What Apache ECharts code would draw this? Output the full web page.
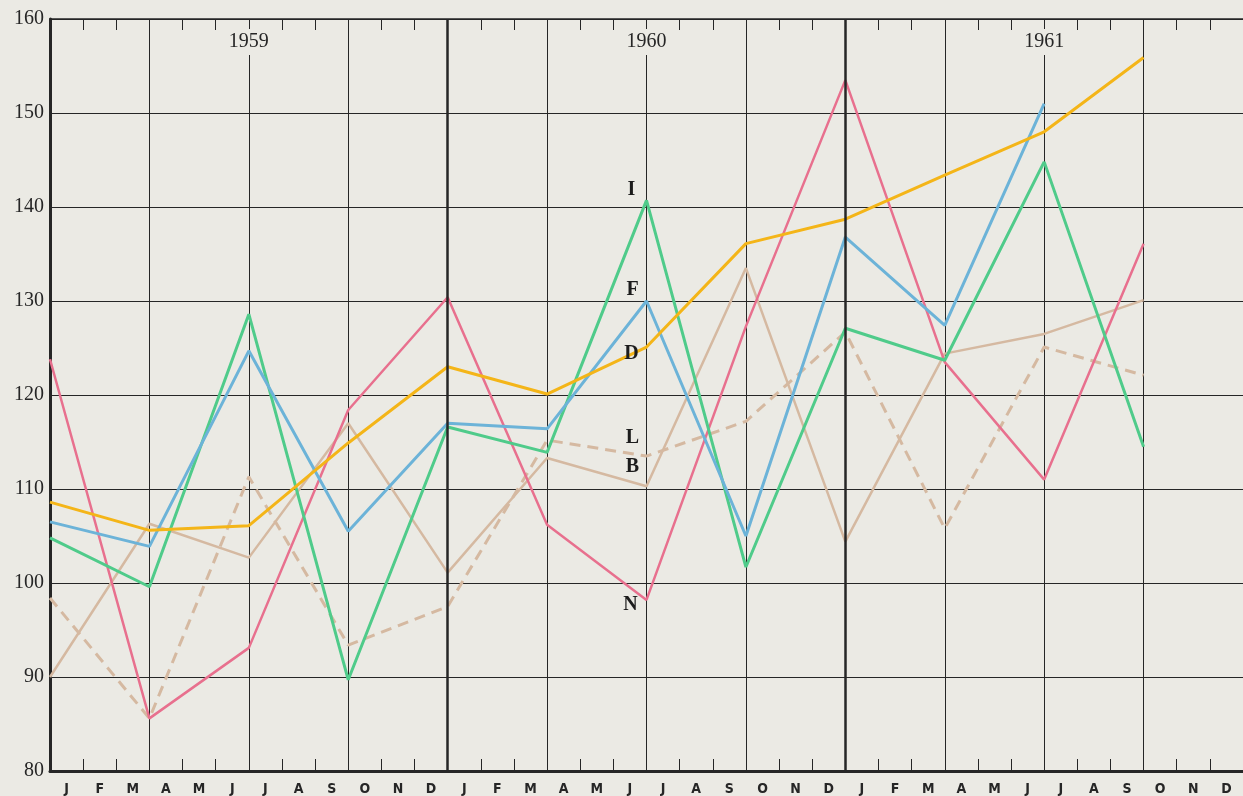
<!DOCTYPE html>
<html>
<head>
<meta charset="utf-8">
<title>1959-1961</title>
<style>
html,body{margin:0;padding:0;background:#ebeae4;}
#main{width:1243px;height:796px;}
</style>
</head>
<body>
<div id="main"></div>
<script src="https://cdn.jsdelivr.net/npm/echarts@6/dist/echarts.min.js"></script>
<script type="text/javascript">
// month letters, three years
var monthNames = ['J','F','M','A','M','J','J','A','S','O','N','D'];
var months = monthNames.concat(monthNames, monthNames);
var years = ['1959', '1960', '1961'];
// one reading every quarter (month index from Jan 1959)
var quarterIdx = [0, 3, 6, 9, 12, 15, 18, 21, 24, 27, 30, 33];

var seriesD = [108.6, 105.6, 106.1, 114.9, 123.0, 120.1, 125.1, 136.1, 138.7, 143.4, 148.0, 155.9];
var seriesF = [106.5, 103.9, 124.7, 105.5, 117.0, 116.4, 130.0, 105.0, 136.8, 127.4, 151.0];
var seriesI = [104.8, 99.6, 128.6, 89.7, 116.6, 113.9, 140.7, 101.7, 127.1, 123.7, 144.8, 114.5];
var seriesN = [123.8, 85.6, 93.1, 118.4, 130.4, 106.2, 98.2, 127.3, 153.5, 123.5, 111.0, 136.1];
var seriesB = [90.0, 106.3, 102.7, 117.0, 101.1, 113.3, 110.3, 133.5, 104.4, 124.4, 126.5, 130.1];
var seriesL = [98.4, 85.6, 111.3, 93.4, 97.5, 115.2, 113.5, 117.2, 126.7, 105.8, 125.1, 122.1];

var ink = '#262626';
var serif = '"Liberation Serif", "DejaVu Serif", serif';

function pairs(vals) {
    return vals.map(function (v, i) { return [quarterIdx[i], v]; });
}

function line(name, vals, color, width, dashed) {
    return {
        name: name,
        type: 'line',
        xAxisIndex: 2,
        yAxisIndex: 0,
        data: pairs(vals),
        showSymbol: false,
        symbol: 'none',
        silent: true,
        z: 3,
        lineStyle: { color: color, width: width, type: dashed ? [11, 7] : 'solid', cap: 'butt' }
    };
}

// letters next to the mid-1960 points
var tagAt = 6;
var tags = [
    { t: 'I', v: seriesI[tagAt], off: [-15, 5] },
    { t: 'F', v: seriesF[tagAt], off: [-14, 4] },
    { t: 'D', v: seriesD[tagAt], off: [-15, 22] },
    { t: 'L', v: seriesL[tagAt], off: [-14, -3] },
    { t: 'B', v: seriesB[tagAt], off: [-14, -4] },
    { t: 'N', v: seriesN[tagAt], off: [-16, 20] }
];

var myChart = echarts.init(document.getElementById('main'));
var yearLine = { show: true, lineStyle: { color: ink, width: 1 } };

var option = {
    animation: false,
    backgroundColor: '#ebeae4',
    grid: { left: 50, top: 19, width: 1203, height: 752 },
    xAxis: [
        {   // bottom month letters and ticks
            type: 'category',
            data: months,
            position: 'bottom',
            boundaryGap: true,
            axisLine: { show: true, lineStyle: { color: ink, width: 3 } },
            axisTick: { show: true, inside: true, length: 12, interval: 0, lineStyle: { color: ink, width: 1 } },
            axisLabel: {
                interval: 0, margin: 11, color: ink, fontSize: 14, fontWeight: 'bold',
                fontFamily: '"Liberation Sans Narrow", "DejaVu Sans Condensed", sans-serif'
            },
            splitLine: { show: false }
        },
        {   // top ticks
            type: 'category',
            data: months,
            position: 'top',
            boundaryGap: true,
            axisLine: { show: true, lineStyle: { color: ink, width: 1.5 } },
            axisTick: { show: true, inside: true, length: 11, interval: 0, lineStyle: { color: ink, width: 1 } },
            axisLabel: { show: false },
            splitLine: { show: false }
        },
        {   // data axis, quarter grid
            type: 'value',
            min: 0,
            max: 36,
            interval: 3,
            position: 'bottom',
            axisLine: { show: false },
            axisTick: { show: false },
            axisLabel: { show: false },
            splitLine: yearLine
        },
        {   // year captions
            type: 'category',
            data: years,
            position: 'top',
            boundaryGap: true,
            axisLine: { show: false },
            axisTick: { show: false },
            axisLabel: {
                inside: true, margin: 10, color: ink, fontSize: 20, fontFamily: serif,
                backgroundColor: '#ebeae4', padding: [3, 4]
            },
            splitLine: { show: false }
        }
    ],
    yAxis: {
        type: 'value',
        min: 80,
        max: 160,
        interval: 10,
        axisLine: { show: true, lineStyle: { color: ink, width: 3 } },
        axisTick: { show: false },
        axisLabel: { color: ink, fontSize: 20, fontFamily: serif, margin: 6 },
        splitLine: { show: true, lineStyle: { color: ink, width: 1.2 } }
    },
    series: [
        line('B', seriesB, '#d5b9a1', 2.5, false),
        line('L', seriesL, '#d5b9a1', 3, true),
        line('N', seriesN, '#e8708e', 2.5, false),
        line('I', seriesI, '#4fcb8a', 3, false),
        line('F', seriesF, '#6cb3d8', 3, false),
        line('D', seriesD, '#f4b518', 3, false),
        {
            name: 'years',
            type: 'line',
            xAxisIndex: 2,
            data: [],
            silent: true,
            markLine: {
                silent: true,
                symbol: ['none', 'none'],
                label: { show: false },
                lineStyle: { color: ink, width: 2.5, type: 'solid' },
                data: [{ xAxis: 12 }, { xAxis: 24 }]
            }
        },
        {
            name: 'tags',
            type: 'scatter',
            xAxisIndex: 2,
            silent: true,
            symbolSize: 1,
            itemStyle: { color: 'rgba(0,0,0,0)' },
            z: 5,
            data: tags.map(function (d) {
                return {
                    value: [quarterIdx[tagAt], d.v],
                    label: {
                        show: true, position: 'top', offset: d.off, formatter: d.t,
                        color: '#1c1c1c', fontSize: 20, fontWeight: 'bold', fontFamily: serif,
                        textBorderWidth: 0, opacity: 1
                    }
                };
            })
        }
    ]
};
myChart.setOption(option);
</script>
</body>
</html>
